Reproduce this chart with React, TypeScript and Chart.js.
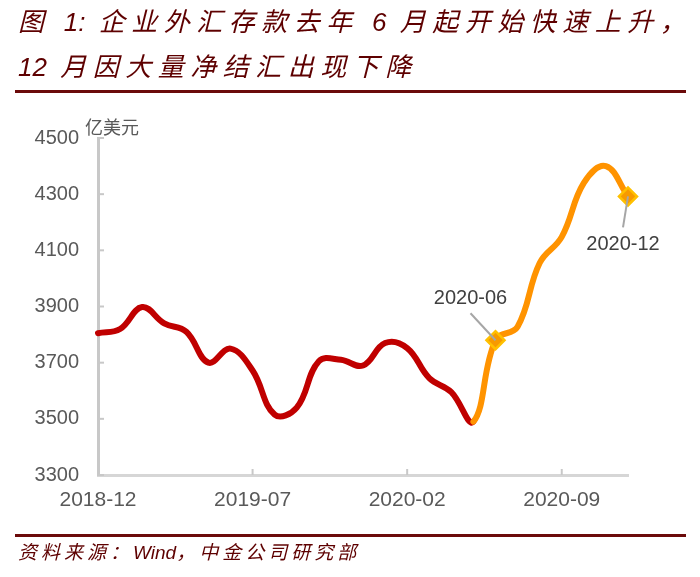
import React, { useEffect, useRef } from "react";
import { Chart, registerables } from "chart.js";

Chart.register(...registerables);

const categories: string[] = [
  "2018-12", "2019-01", "2019-02", "2019-03", "2019-04", "2019-05", "2019-06",
  "2019-07", "2019-08", "2019-09", "2019-10", "2019-11", "2019-12", "2020-01",
  "2020-02", "2020-03", "2020-04", "2020-05", "2020-06", "2020-07", "2020-08",
  "2020-09", "2020-10", "2020-11", "2020-12",
];

const deposits: number[] = [
  3805, 3820, 3898, 3840, 3810, 3700, 3750, 3672, 3515, 3540, 3705, 3710, 3690,
  3770, 3752, 3645, 3595, 3490, 3780, 3828, 4055, 4148, 4340, 4400, 4292,
];

const yTicks: number[] = [3300, 3500, 3700, 3900, 4100, 4300, 4500];
const shownTickLabels: string[] = ["2018-12", "2019-07", "2020-02", "2020-09"];
const highlightLabels: string[] = ["2020-06", "2020-12"];
const orangeFrom = "2020-05";
const unitLabel = "亿美元";
const titleLines: string[] = [
  "图 1: 企业外汇存款去年 6 月起开始快速上升，",
  "12 月因大量净结汇出现下降",
];
const sourceText = "资料来源：Wind，中金公司研究部";

const RED = "#C00000";
const ORANGE = "#FF9300";
const DARK = "#6B0A0A";
const AXIS = "#C8C8C8";
const TEXT = "#595959";
const FONT = "'Liberation Sans', Arial, 'Noto Sans CJK SC', sans-serif";

// only CJK characters and spaces receive extra letter spacing; latin/digits stay tight
function spaced(text: string, spacing: number, spaceExtra: number) {
  const parts = text.match(/[A-Za-z0-9:]+|[^A-Za-z0-9: ]+| +/g) || [];
  return parts.map((p, i) => {
    const latin = /^[A-Za-z0-9:]+$/.test(p);
    const sp = /^ +$/.test(p);
    return (
      <span key={i} style={{ letterSpacing: latin ? 0 : sp ? spaceExtra : spacing, whiteSpace: "pre" }}>
        {p}
      </span>
    );
  });
}

export default function App() {
  const ref = useRef<HTMLCanvasElement | null>(null);

  useEffect(() => {
    if (!ref.current) return;
    const orangeIdx = categories.indexOf(orangeFrom);
    const hiIdx = highlightLabels.map((l) => categories.indexOf(l));

    const decor = {
      id: "decor",
      afterDatasetsDraw(chart: any) {
        const { ctx, chartArea } = chart;
        const xs = chart.scales.x;
        const ys = chart.scales.y;
        ctx.save();
        ctx.strokeStyle = AXIS;
        ctx.lineWidth = 2;
        yTicks.forEach((v) => {
          const y = ys.getPixelForValue(v);
          ctx.beginPath();
          ctx.moveTo(chartArea.left, y);
          ctx.lineTo(chartArea.left + 6, y);
          ctx.stroke();
        });
        shownTickLabels.forEach((l) => {
          const x = xs.getPixelForValue(categories.indexOf(l));
          ctx.beginPath();
          ctx.moveTo(x, chartArea.bottom);
          ctx.lineTo(x, chartArea.bottom - 6);
          ctx.stroke();
        });
        ctx.fillStyle = TEXT;
        ctx.font = "18px 'Noto Sans CJK SC', serif";
        ctx.textAlign = "left";
        ctx.textBaseline = "middle";
        ctx.fillText(unitLabel, chartArea.left - 13, chartArea.top - 11);
        const meta = chart.getDatasetMeta(0);
        const offsets = [
          { lx: -25, ly: -42, sx: -25, sy: -27 },
          { lx: -5, ly: 48, sx: -5, sy: 31 },
        ];
        hiIdx.forEach((idx, k) => {
          const pt = meta.data[idx];
          const o = offsets[k];
          ctx.strokeStyle = "#A6A6A6";
          ctx.lineWidth = 2;
          ctx.beginPath();
          ctx.moveTo(pt.x + o.sx, pt.y + o.sy);
          ctx.lineTo(pt.x, pt.y);
          ctx.stroke();
          ctx.fillStyle = "#404040";
          ctx.font = `20px ${FONT}`;
          ctx.textAlign = "center";
          ctx.textBaseline = "middle";
          ctx.fillText(categories[idx], pt.x + o.lx, pt.y + o.ly);
        });
        ctx.restore();
      },
    };

    const chart = new Chart(ref.current, {
      type: "line",
      data: {
        labels: categories,
        datasets: [
          {
            data: deposits,
            borderWidth: 6,
            tension: 0.4,
            borderCapStyle: "round",
            borderJoinStyle: "round",
            borderColor: RED,
            segment: {
              borderColor: (c: any) => (c.p0DataIndex >= orangeIdx ? ORANGE : RED),
            },
            pointStyle: "rectRot",
            pointRadius: (c: any) => (hiIdx.includes(c.dataIndex) ? 9 : 0),
            pointHoverRadius: 0,
            pointBackgroundColor: "#F79A00",
            pointBorderColor: "#FFC000",
            pointBorderWidth: 2.5,
          } as any,
        ],
      },
      options: {
        animation: false,
        responsive: false,
        events: [],
        layout: { padding: { top: 138, left: 0, right: 72, bottom: 62 } },
        plugins: { legend: { display: false }, tooltip: { enabled: false } },
        scales: {
          x: {
            type: "category",
            offset: false,
            grid: { display: false, drawTicks: false },
            border: { display: true, color: "#D6D6D6", width: 3 },
            ticks: {
              autoSkip: false,
              maxRotation: 0,
              padding: 13,
              color: TEXT,
              font: { size: 21, family: FONT },
              callback: (_v: any, i: number) =>
                shownTickLabels.includes(categories[i]) ? categories[i] : "",
            },
            afterFit: (s: any) => {
              s.height = 40;
            },
          },
          y: {
            min: 3300,
            max: 4500,
            grid: { display: false, drawTicks: false },
            border: { display: true, color: AXIS, width: 3 },
            ticks: {
              stepSize: 200,
              padding: 19,
              color: TEXT,
              font: { size: 20, family: FONT },
              callback: (v: any) => String(v),
            },
            afterFit: (s: any) => {
              s.width = 98;
            },
          },
        },
      },
      plugins: [decor],
    });
    return () => chart.destroy();
  }, []);

  return (
    <div style={{ position: "absolute", left: 0, top: 0, width: 700, height: 577, background: "#fff" }}>
      <canvas ref={ref} width={700} height={577} style={{ position: "absolute", left: 0, top: 0 }} />
      <div
        style={{
          position: "absolute",
          left: 18,
          top: 0,
          fontFamily: FONT,
          fontStyle: "italic",
          fontSize: 26,
          lineHeight: "45px",
          color: "#5E0000",
          whiteSpace: "nowrap",
        }}
      >
        {titleLines.map((t, i) => (
          <div key={i}>{spaced(t, 6.5, 6)}</div>
        ))}
      </div>
      <div style={{ position: "absolute", left: 15, top: 90, width: 671, height: 3, background: DARK }} />
      <div style={{ position: "absolute", left: 15, top: 534, width: 671, height: 3, background: DARK }} />
      <div
        style={{
          position: "absolute",
          left: 18,
          top: 541,
          fontFamily: FONT,
          fontStyle: "italic",
          fontSize: 19,
          lineHeight: "24px",
          color: "#5E0000",
          whiteSpace: "nowrap",
        }}
      >
        {spaced(sourceText, 4, 4)}
      </div>
    </div>
  );
}
